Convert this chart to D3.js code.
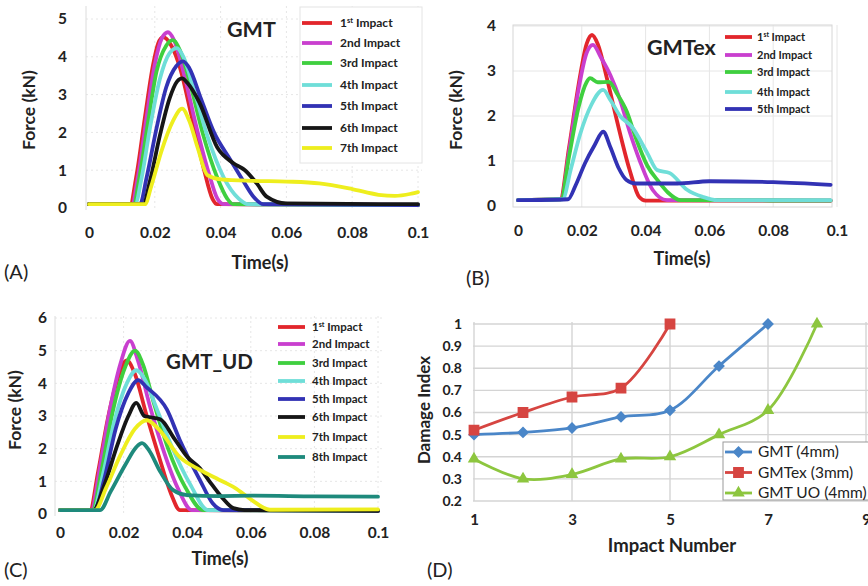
<!DOCTYPE html>
<html><head><meta charset="utf-8">
<script src="https://cdn.jsdelivr.net/npm/d3@7"></script>
<style>
body{margin:0;background:#fff}
svg{display:block}
text{font-family:Lato,"Open Sans",sans-serif;fill:#222}
</style>
</head><body>
<svg id="fig" width="868" height="586"></svg>
<script>
// ---------- data ----------
const impactLabels = ["1st Impact","2nd Impact","3rd Impact","4th Impact","5th Impact","6th Impact","7th Impact","8th Impact"];
const timeTicks = [0,0.02,0.04,0.06,0.08,0.1];
const forceTicksA = [0,1,2,3,4,5];
const forceTicksB = [0,1,2,3,4];
const forceTicksC = [0,1,2,3,4,5,6];

// GMT: force (kN) vs time (s), impacts 1-7
const gmtCurves = [
  [[0,0.1],[0.0125,0.1],[0.0145,0.9],[0.017,2.4],[0.0195,3.8],[0.021,4.35],[0.0225,4.52],[0.025,4.3],[0.0277,3.7],[0.031,2.5],[0.035,1.0],[0.0375,0.25],[0.039,0.1],[0.1,0.08]],
  [[0,0.1],[0.013,0.1],[0.015,0.9],[0.0175,2.4],[0.02,3.8],[0.0222,4.5],[0.024,4.65],[0.0258,4.45],[0.029,3.5],[0.0325,2.2],[0.0365,0.9],[0.039,0.25],[0.041,0.1],[0.1,0.08]],
  [[0,0.1],[0.0135,0.1],[0.0155,0.9],[0.018,2.3],[0.0205,3.6],[0.0235,4.3],[0.0255,4.44],[0.0275,4.2],[0.031,3.2],[0.0345,2.0],[0.039,0.8],[0.042,0.25],[0.0438,0.1],[0.1,0.08]],
  [[0,0.1],[0.014,0.1],[0.016,0.8],[0.0185,2.1],[0.0215,3.4],[0.0245,4.1],[0.0267,4.23],[0.0287,4.0],[0.032,3.1],[0.036,1.9],[0.041,0.8],[0.0455,0.25],[0.0483,0.1],[0.1,0.08]],
  [[0,0.1],[0.0155,0.1],[0.0175,0.8],[0.0205,2.1],[0.0235,3.2],[0.0265,3.75],[0.0286,3.88],[0.0305,3.7],[0.034,2.9],[0.038,2.0],[0.043,1.27],[0.047,0.7],[0.05,0.3],[0.053,0.1],[0.1,0.08]],
  [[0,0.1],[0.0165,0.1],[0.0185,0.7],[0.0215,1.9],[0.0245,2.9],[0.0268,3.35],[0.0283,3.43],[0.03,3.3],[0.0335,2.8],[0.039,1.6],[0.0438,1.19],[0.0474,1.0],[0.051,0.65],[0.054,0.3],[0.06,0.12],[0.1,0.1]],
  [[0,0.1],[0.017,0.1],[0.019,0.6],[0.022,1.5],[0.0255,2.3],[0.0283,2.63],[0.0305,2.3],[0.033,1.6],[0.036,0.87],[0.04,0.76],[0.05,0.72],[0.06,0.7],[0.07,0.65],[0.08,0.5],[0.088,0.35],[0.093,0.32],[0.098,0.38],[0.1,0.42]]
];

// GMTex: force (kN) vs time (s), impacts 1-5
const gmtexCurves = [
  [[0,0.13],[0.0132,0.15],[0.016,1.3],[0.019,2.7],[0.0215,3.6],[0.0232,3.8],[0.025,3.6],[0.028,2.8],[0.031,1.9],[0.035,0.8],[0.038,0.2],[0.04,0.12],[0.098,0.12]],
  [[0,0.13],[0.0135,0.15],[0.016,1.2],[0.019,2.6],[0.0215,3.4],[0.0235,3.58],[0.026,3.3],[0.029,2.9],[0.032,2.36],[0.035,1.65],[0.0382,1.0],[0.0423,0.35],[0.0467,0.13],[0.098,0.12]],
  [[0,0.13],[0.0135,0.15],[0.016,1.1],[0.019,2.2],[0.0215,2.75],[0.0226,2.84],[0.025,2.75],[0.0285,2.76],[0.031,2.5],[0.0341,2.1],[0.037,1.5],[0.0405,0.9],[0.044,0.55],[0.047,0.3],[0.051,0.13],[0.098,0.12]],
  [[0,0.13],[0.014,0.15],[0.0165,0.8],[0.0195,1.6],[0.023,2.25],[0.0267,2.58],[0.029,2.35],[0.032,2.0],[0.0357,1.76],[0.0405,1.18],[0.0436,0.8],[0.0476,0.73],[0.053,0.36],[0.058,0.2],[0.0624,0.13],[0.098,0.13]],
  [[0,0.13],[0.0157,0.15],[0.018,0.45],[0.021,0.95],[0.024,1.35],[0.0267,1.65],[0.029,1.3],[0.0315,0.85],[0.034,0.58],[0.037,0.5],[0.05,0.5],[0.06,0.55],[0.08,0.53],[0.098,0.47]]
];

// GMT_UD: force (kN) vs time (s), impacts 1-8
const gmtudCurves = [
  [[0,0.12],[0.0094,0.12],[0.012,1.3],[0.015,2.9],[0.018,4.1],[0.021,4.7],[0.0235,4.3],[0.027,3.1],[0.031,1.8],[0.035,0.6],[0.0377,0.12],[0.1,0.1]],
  [[0,0.12],[0.0098,0.12],[0.0125,1.4],[0.0155,3.1],[0.019,4.6],[0.022,5.3],[0.0245,4.7],[0.028,3.4],[0.032,2.1],[0.037,0.8],[0.0415,0.12],[0.1,0.1]],
  [[0,0.12],[0.0102,0.12],[0.013,1.3],[0.0165,3.1],[0.0205,4.5],[0.0236,5.0],[0.026,4.6],[0.0295,3.4],[0.034,2.0],[0.0395,0.8],[0.045,0.12],[0.1,0.1]],
  [[0,0.12],[0.0105,0.12],[0.0135,1.2],[0.017,2.8],[0.021,4.0],[0.024,4.4],[0.0265,4.15],[0.0305,3.2],[0.035,2.1],[0.041,0.9],[0.0465,0.12],[0.1,0.1]],
  [[0,0.12],[0.0108,0.12],[0.014,1.1],[0.0175,2.6],[0.0215,3.7],[0.0246,4.1],[0.027,3.9],[0.0336,3.2],[0.0377,2.26],[0.044,1.04],[0.048,0.33],[0.0513,0.12],[0.1,0.1]],
  [[0,0.12],[0.0105,0.12],[0.014,0.9],[0.018,2.1],[0.0215,3.0],[0.024,3.4],[0.0265,3.0],[0.0315,2.9],[0.036,2.3],[0.04,1.75],[0.044,1.4],[0.047,1.0],[0.051,0.5],[0.0545,0.18],[0.058,0.12],[0.1,0.1]],
  [[0,0.12],[0.011,0.12],[0.0145,0.8],[0.019,1.8],[0.0235,2.6],[0.0273,2.87],[0.031,2.6],[0.0377,1.74],[0.044,1.35],[0.05,1.05],[0.055,0.8],[0.06,0.45],[0.066,0.13],[0.1,0.14]],
  [[0,0.12],[0.0126,0.12],[0.016,0.7],[0.0205,1.5],[0.024,2.05],[0.0258,2.17],[0.028,1.95],[0.0315,1.3],[0.0356,0.73],[0.04,0.58],[0.05,0.55],[0.06,0.56],[0.08,0.54],[0.1,0.53]]
];

// Damage index vs impact number
const impactNumbers = [1,2,3,4,5,6,7,8];
const damageNames = ["GMT (4mm)","GMTex (3mm)","GMT UO (4mm)"];
const damageGMT   = [0.50,0.51,0.53,0.58,0.61,0.81,1.00];
const damageGMTex = [0.52,0.60,0.67,0.71,1.00];
const damageGMTUO = [0.39,0.30,0.32,0.39,0.40,0.50,0.61,1.00];
const damageTicks = [0.2,0.3,0.4,0.5,0.6,0.7,0.8,0.9,1];
const impactTicks = [1,3,5,7,9];

// ---------- styles ----------
const impactColors = ["#e2262c","#c93fcf","#3fcf3f","#6fded8","#3232b4","#161616","#eeee1e","#1e8a7c"];
const damageColors = ["#4a86c8","#d64541","#8dc63f"];

const svg = d3.select("#fig");
const fmtTime = d => d === 0 ? "0" : (d === 0.1 ? "0.1" : d3.format(".2f")(d));

function addText(g, x, y, str, opts) {
  const t = g.append("text").attr("x", x).attr("y", y).text(str)
    .attr("font-size", opts.size).attr("font-weight", opts.weight || "bold")
    .attr("text-anchor", opts.anchor || "start");
  if (opts.rotate) t.attr("transform", `rotate(-90,${x},${y})`);
  return t;
}

function legendLabel(g, x, y, label, size) {
  const t = g.append("text").attr("x", x).attr("y", y).attr("dy", "0.35em")
    .attr("font-size", size).attr("font-weight", "bold");
  if (label.startsWith("1st")) {
    t.append("tspan").text("1");
    t.append("tspan").text("st").attr("font-size", size * 0.62).attr("dy", -size * 0.35);
    t.append("tspan").text(" Impact").attr("dy", size * 0.35);
  } else t.text(label);
}

function forcePanel(cfg) {
  const g = svg.append("g");
  const x = d3.scaleLinear([0, 0.1], cfg.xRange);
  const y = d3.scaleLinear([0, cfg.yMax], cfg.yRange);

  // faint grid
  const grid = g.append("g").attr("stroke", "#e6e6e6").attr("stroke-width", 1)
    .attr("stroke-dasharray", cfg.dashGrid ? "2,3" : null);
  grid.selectAll(".h").data(cfg.yTicks.slice(1)).join("line")
    .attr("x1", cfg.plot[0]).attr("x2", cfg.plot[1]).attr("y1", d => y(d)).attr("y2", d => y(d));
  grid.selectAll(".v").data(timeTicks.slice(1)).join("line")
    .attr("x1", d => x(d)).attr("x2", d => x(d)).attr("y1", cfg.plot[2]).attr("y2", cfg.plot[3]);
  if (cfg.frame) {
    g.append("rect").attr("x", cfg.plot[0]).attr("y", cfg.plot[2])
      .attr("width", cfg.plot[1] - cfg.plot[0]).attr("height", cfg.plot[3] - cfg.plot[2])
      .attr("fill", "none").attr("stroke", "#d6d6d6");
  } else {
    g.append("line").attr("x1", cfg.plot[0]).attr("x2", cfg.plot[0])
      .attr("y1", cfg.plot[2]).attr("y2", cfg.plot[3]).attr("stroke", "#dcdcdc");
  }

  // axes (labels only)
  const ya = g.append("g").attr("transform", `translate(${cfg.plot[0]},0)`)
    .call(d3.axisLeft(y).tickValues(cfg.yTicks).tickSize(0).tickPadding(cfg.yPad).tickFormat(d3.format("d")));
  const xa = g.append("g").attr("transform", `translate(0,${cfg.yRange[0]})`)
    .call(d3.axisBottom(x).tickValues(timeTicks).tickSize(0).tickPadding(cfg.xPad).tickFormat(fmtTime));
  [ya, xa].forEach(a => {
    a.select(".domain").remove();
    a.selectAll("text").attr("font-size", cfg.tickSize).attr("font-weight", "bold")
      .attr("font-family", "Lato, sans-serif").attr("fill", "#222");
  });

  // curves
  const line = d3.line().x(d => x(d[0])).y(d => y(d[1])).curve(d3.curveMonotoneX);
  g.append("g").selectAll("path").data(cfg.curves).join("path")
    .attr("d", line).attr("fill", "none")
    .attr("stroke", (d, i) => impactColors[i]).attr("stroke-width", 3.8)
    .attr("stroke-linejoin", "round").attr("stroke-linecap", "round");

  // legend
  const lg = g.append("g");
  if (cfg.legendBox) lg.append("rect").attr("x", cfg.legendBox[0]).attr("y", cfg.legendBox[1])
    .attr("width", cfg.legendBox[2]).attr("height", cfg.legendBox[3])
    .attr("fill", "#fff").attr("stroke", "#e4e4e4");
  cfg.curves.forEach((c, i) => {
    const yy = cfg.legendY[i];
    lg.append("line").attr("x1", cfg.legendX[0]).attr("x2", cfg.legendX[1])
      .attr("y1", yy).attr("y2", yy).attr("stroke", impactColors[i]).attr("stroke-width", 3.8);
    legendLabel(lg, cfg.legendX[2], yy, impactLabels[i], cfg.legendFont);
  });

  // titles
  addText(g, cfg.title[1], cfg.title[2], cfg.title[0], {size: cfg.title[3]});
  addText(g, cfg.yLabel[0], cfg.yLabel[1], "Force (kN)", {size: 17.5, anchor: "middle", rotate: true});
  addText(g, cfg.xLabel[0], cfg.xLabel[1], "Time(s)", {size: 18, anchor: "middle"});
  addText(g, cfg.tag[1], cfg.tag[2], cfg.tag[0], {size: 20, weight: "normal"});
}

// (A) GMT
forcePanel({
  curves: gmtCurves, yMax: 5, yTicks: forceTicksA,
  xRange: [89, 418], yRange: [208, 19], plot: [86, 422, 6, 210],
  yPad: 19, xPad: 19, tickSize: 15.5, dashGrid: true,
  legendBox: [300, 7, 122, 156], legendX: [302, 332, 340],
  legendY: [23, 43, 63, 85, 106, 128, 148], legendFont: 12,
  title: ["GMT", 227, 37, 21.5], yLabel: [35, 110], xLabel: [260, 269], tag: ["(A)", 4, 279]
});

// (B) GMTex
forcePanel({
  curves: gmtexCurves, yMax: 4, yTicks: forceTicksB,
  xRange: [518, 837], yRange: [206, 26], plot: [513, 832, 25, 207], frame: true,
  yPad: 17, xPad: 19, tickSize: 15.5,
  legendX: [725, 752, 757], legendY: [37, 55, 72, 92, 109], legendFont: 11,
  title: ["GMTex", 647, 55, 21.5], yLabel: [462, 110], xLabel: [682, 265], tag: ["(B)", 466, 285]
});

// (C) GMT_UD
forcePanel({
  curves: gmtudCurves, yMax: 6, yTicks: forceTicksC,
  xRange: [60, 378], yRange: [514, 318], plot: [55, 384, 316, 516], dashGrid: true,
  yPad: 8, xPad: 13, tickSize: 15.5,
  legendX: [278, 305, 312], legendY: [327, 344, 363, 381, 399, 417, 437, 457], legendFont: 11.5,
  title: ["GMT_UD", 166, 369, 20.5], yLabel: [21, 410], xLabel: [220, 565], tag: ["(C)", 4, 577]
});

// (D) Damage index
(function () {
  const g = svg.append("g");
  const x = d3.scaleLinear([1, 9], [474, 866]);
  const y = d3.scaleLinear([0.2, 1], [501, 324]);

  const grid = g.append("g").attr("stroke", "#d4d4d4").attr("stroke-width", 1.4);
  grid.selectAll(".h").data(damageTicks).join("line")
    .attr("x1", 473).attr("x2", 868).attr("y1", d => y(d)).attr("y2", d => y(d));
  grid.selectAll(".v").data(impactTicks).join("line")
    .attr("x1", d => x(d)).attr("x2", d => x(d)).attr("y1", 322).attr("y2", 501);

  const ya = g.append("g").attr("transform", "translate(473,0)")
    .call(d3.axisLeft(y).tickValues(damageTicks).tickSize(0).tickPadding(11).tickFormat(d => d === 1 ? "1" : d3.format(".1f")(d)));
  const xa = g.append("g").attr("transform", "translate(0,501)")
    .call(d3.axisBottom(x).tickValues(impactTicks).tickSize(0).tickPadding(13).tickFormat(d3.format("d")));
  [ya, xa].forEach(a => {
    a.select(".domain").remove();
    a.selectAll("text").attr("font-weight", "bold").attr("font-family", "Lato, sans-serif").attr("fill", "#222");
  });
  ya.selectAll("text").attr("font-size", 14);
  xa.selectAll("text").attr("font-size", 15);

  const series = [damageGMT, damageGMTex, damageGMTUO];
  const line = d3.line().x((d, i) => x(impactNumbers[i])).y(d => y(d)).curve(d3.curveCatmullRom.alpha(0.5));
  const symbols = [d3.symbolDiamond2, d3.symbolSquare2, d3.symbolTriangle2];
  const symSize = [60, 110, 70];

  function marker(sel, i) {
    sel.attr("d", d3.symbol(symbols[i], symSize[i]))
      .attr("fill", damageColors[i]).attr("stroke", damageColors[i]).attr("stroke-width", 1.5);
  }

  series.forEach((s, i) => {
    g.append("path").datum(s).attr("d", line).attr("fill", "none")
      .attr("stroke", damageColors[i]).attr("stroke-width", 2.8);
    g.append("g").selectAll("path").data(s).join("path")
      .attr("transform", (d, j) => `translate(${x(impactNumbers[j])},${y(d)})`)
      .call(marker, i);
  });

  // legend
  const lg = g.append("g");
  lg.append("rect").attr("x", 723).attr("y", 442).attr("width", 150).attr("height", 58)
    .attr("fill", "#fff").attr("stroke", "#9a9a9a");
  damageNames.forEach((n, i) => {
    const yy = 452 + i * 20.5;
    lg.append("line").attr("x1", 725).attr("x2", 752).attr("y1", yy).attr("y2", yy)
      .attr("stroke", damageColors[i]).attr("stroke-width", 2.8);
    lg.append("path").attr("transform", `translate(738.5,${yy})`).call(marker, i);
    lg.append("text").attr("x", 758).attr("y", yy).attr("dy", "0.35em")
      .attr("font-size", 15.5).text(n);
  });

  addText(g, 430, 410, "Damage Index", {size: 17, anchor: "middle", rotate: true});
  addText(g, 672, 552, "Impact Number", {size: 18.5, anchor: "middle"});
  addText(g, 427, 577, "(D)", {size: 20, weight: "normal"});
})();
</script>
</body></html>
